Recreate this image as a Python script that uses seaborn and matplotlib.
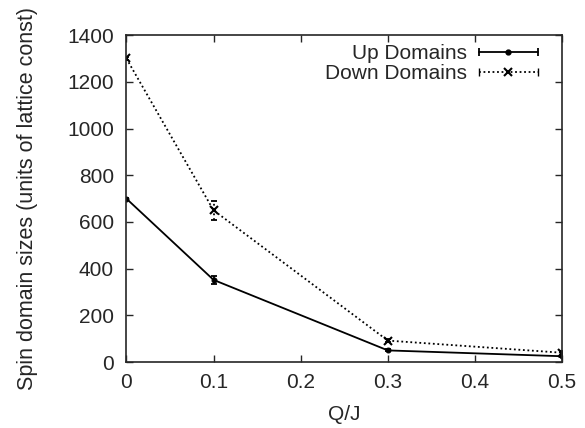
import matplotlib
matplotlib.use("Agg")
import matplotlib.pyplot as plt
import seaborn as sns
import pandas as pd
from matplotlib.lines import Line2D
from matplotlib.legend_handler import HandlerLine2D, HandlerTuple

q_values = [0.0, 0.1, 0.3, 0.5]
up_sizes = [700, 352, 50, 25]
up_err = [4, 17, 4, 4]
down_sizes = [1300, 650, 92, 40]
down_err = [6, 40, 5, 8]

df = pd.DataFrame({
    "Q/J": q_values * 2,
    "size": up_sizes + down_sizes,
    "series": ["Up Domains"] * 4 + ["Down Domains"] * 4,
})

sns.set_style("ticks")
plt.rcParams["font.family"] = ["Liberation Sans", "DejaVu Sans"]
FS = 15
DOT = (0, (1, 1.5))

fig = plt.figure(figsize=(5.85, 4.28), dpi=100)
ax = fig.add_axes([0.216, 0.154, 0.745, 0.764])

sns.lineplot(data=df[df.series == "Up Domains"], x="Q/J", y="size", ax=ax,
             color="black", lw=1.3, marker="o", markersize=3.5, mec="black", mew=0.8,
             legend=False)
sns.lineplot(data=df[df.series == "Down Domains"], x="Q/J", y="size", ax=ax,
             color="black", lw=1.3, linestyle=DOT, marker="x", markersize=5.5,
             mec="black", mew=1.5, legend=False)
ax.errorbar(q_values, up_sizes, yerr=up_err, fmt="none", ecolor="black", capsize=2.5,
            elinewidth=1.3, capthick=1.3)
eb = ax.errorbar(q_values, down_sizes, yerr=down_err, fmt="none", ecolor="black",
                 capsize=2.5, elinewidth=1.3, capthick=1.3)
eb[2][0].set_linestyle(":")

ax.set_xlim(0, 0.5)
ax.set_ylim(0, 1400)
ax.set_xticks([0, 0.1, 0.2, 0.3, 0.4, 0.5])
ax.set_xticklabels(["0", "0.1", "0.2", "0.3", "0.4", "0.5"])
ax.set_yticks(range(0, 1401, 200))
ax.tick_params(direction="in", top=True, right=True, length=5, width=1, labelsize=FS)
ax.tick_params(axis="y", pad=9)
ax.tick_params(axis="x", pad=8)
for s in ax.spines.values():
    s.set_linewidth(1.2)
ax.set_xlabel("Q/J", fontsize=FS, labelpad=9)
ax.set_ylabel("Spin domain sizes (units of lattice const)", fontsize=15.5, labelpad=21)

up_line = Line2D([], [], color="black", lw=1.3, marker="o", markersize=3.5)
up_cap = Line2D([], [], color="black", ls="none", marker="|", markersize=6, mew=1.3)
down_line = Line2D([], [], color="black", lw=1.3, linestyle=DOT, marker="x",
                   markersize=5.5, mew=1.5)
down_cap = Line2D([], [], color="black", ls="none", marker="|", markersize=6, mew=1.0)
ax.legend([(up_line, up_cap), (down_line, down_cap)], ["Up Domains", "Down Domains"],
          loc="upper right", bbox_to_anchor=(0.9635, 0.997), frameon=False,
          markerfirst=False, fontsize=FS,
          handlelength=2.83, labelspacing=0.05, borderaxespad=0.0, handletextpad=0.58,
          numpoints=1,
          handler_map={tuple: HandlerTuple(ndivide=1, pad=0),
                       up_cap: HandlerLine2D(numpoints=2, marker_pad=0),
                       down_cap: HandlerLine2D(numpoints=2, marker_pad=0)})

fig.savefig("out.png", dpi=100)
